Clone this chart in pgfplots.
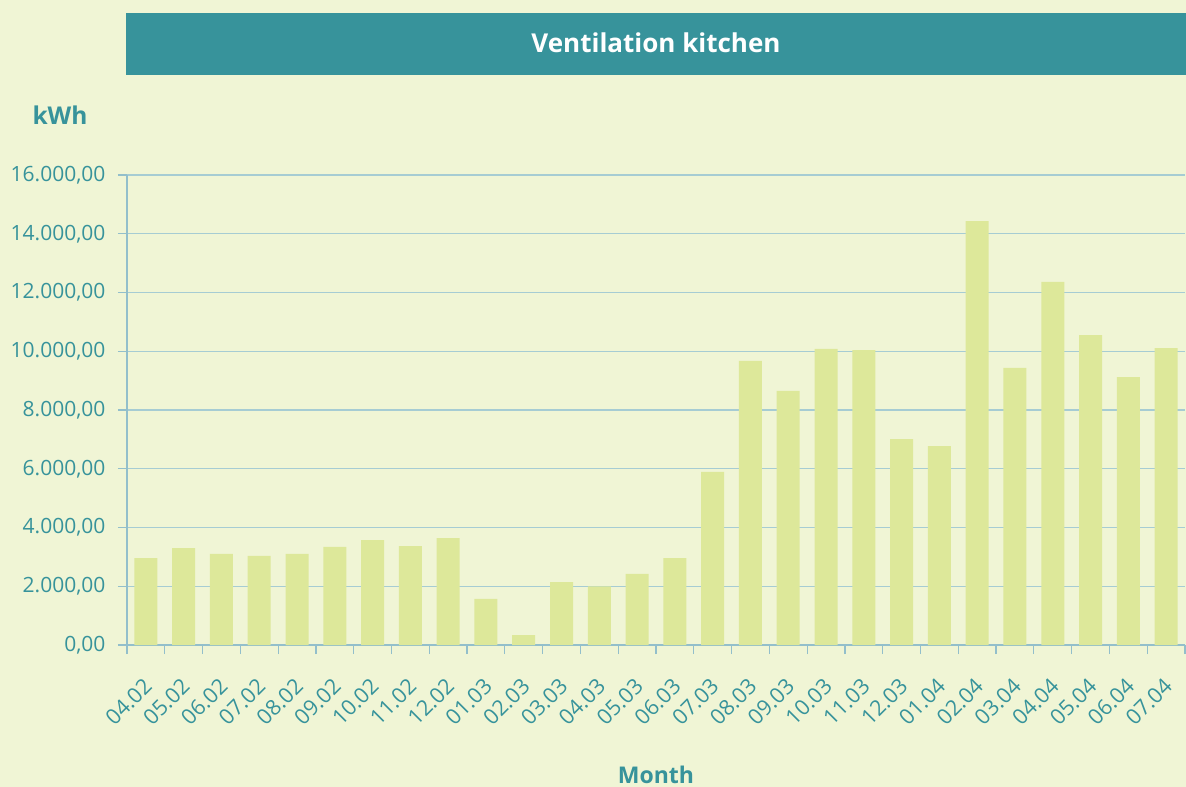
\documentclass[border=0pt]{standalone}
\usepackage{fontspec}
\setmainfont{Open Sans}
\usepackage{pgfplots}
\pgfplotsset{compat=1.18}

\definecolor{bgc}{HTML}{F0F5D5}
\definecolor{teal}{HTML}{37939B}
\definecolor{barc}{HTML}{DDE89A}
\definecolor{gridc}{HTML}{A6CCD3}
\definecolor{axc}{HTML}{93BFCB}

\begin{document}
\begin{tikzpicture}[x=1pt,y=1pt]
\fill[bgc] (-127,-142) rectangle (1059,645);
\fill[teal] (-1,570) rectangle (1059,632);
\node[text=white,font=\fontsize{26}{30}\selectfont\bfseries] at (529,602) {Ventilation kitchen};
\node[text=teal,font=\fontsize{24.5}{28}\selectfont\bfseries] at (-67,530) {kWh};
\begin{axis}[
  at={(0,0)}, anchor=south west,
  scale only axis,
  width=1058pt, height=470pt,
  xmin=-0.5, xmax=27.5,
  ymin=0, ymax=16000,
  axis x line*=bottom, axis y line*=left,
  axis line style={draw=axc, line width=1.2pt, -},
  ytick={0,2000,...,16000},
  ymajorgrids,
  major grid style={draw=gridc, line width=1.3pt},
  y tick style={draw=axc, line width=1.2pt},
  tick align=outside,
  major tick length=9pt,
  xtick={0,...,27},
  xticklabels={04.02,05.02,06.02,07.02,08.02,09.02,10.02,11.02,12.02,01.03,02.03,03.03,04.03,05.03,06.03,07.03,08.03,09.03,10.03,11.03,12.03,01.04,02.04,03.04,04.04,05.04,06.04,07.04},
  major x tick style={draw=none},
  minor xtick={-0.5,0.5,...,27.5},
  minor x tick style={draw=axc, line width=1.2pt},
  minor tick length=9pt,
  x tick label style={rotate=45, anchor=north east, text=teal, font=\fontsize{21.5}{24}\selectfont, yshift=-10pt, xshift=-15pt},
  y tick label style={text=teal, font=\fontsize{21}{24}\selectfont, xshift=-9pt},
  /pgf/number format/.cd, fixed, fixed zerofill, precision=2, use comma, 1000 sep={.}, assume math mode=true,
  /pgfplots/.cd,
  scaled y ticks=false,
  xlabel={Month},
  xlabel style={text=teal, font=\fontsize{23}{27}\selectfont\bfseries, at={(0.5,0)}, anchor=center, yshift=-130pt},
]
\addplot[ybar, bar width=23pt, fill=barc, draw=none] coordinates {
  (0,2960) (1,3300) (2,3100) (3,3030) (4,3100) (5,3340) (6,3570)
  (7,3370) (8,3640) (9,1570) (10,340) (11,2140) (12,2000) (13,2420)
  (14,2960) (15,5890) (16,9670) (17,8650) (18,10080) (19,10040) (20,7010)
  (21,6770) (22,14430) (23,9430) (24,12360) (25,10550) (26,9120) (27,10110)
};
\end{axis}
\pgfresetboundingbox
\path[use as bounding box] (-127,-142) rectangle (1059,645);
\end{tikzpicture}
\end{document}
